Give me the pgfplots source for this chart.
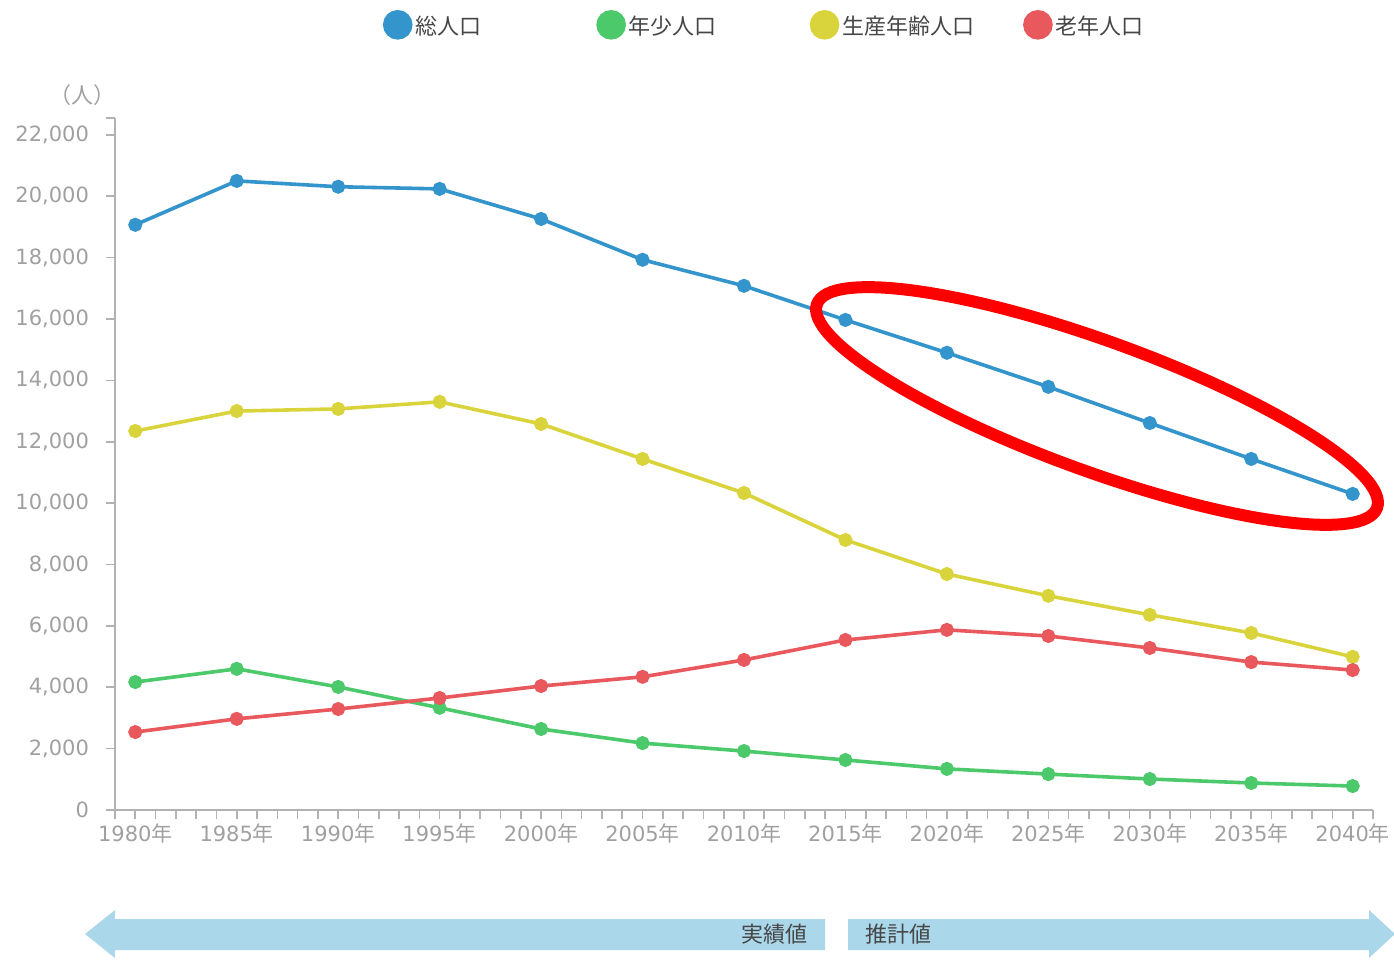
\documentclass[border=0pt]{standalone}
\usepackage{pgfplots}
\pgfplotsset{compat=1.18}
\usepackage{fontspec}
\setmainfont{Noto Sans CJK JP}
\newfontfamily\dv{DejaVu Sans}
\definecolor{cTot}{RGB}{52,148,204}
\definecolor{cYoung}{RGB}{76,201,106}
\definecolor{cWork}{RGB}{218,212,60}
\definecolor{cOld}{RGB}{232,88,92}
\definecolor{axisgray}{RGB}{178,178,178}
\definecolor{labgray}{RGB}{160,160,160}
\definecolor{leggray}{RGB}{70,70,70}
\definecolor{arrowblue}{RGB}{170,215,234}
\begin{document}
\begin{tikzpicture}
\useasboundingbox (-57.5pt,-75pt) rectangle (639.5pt,405pt);
\begin{axis}[
  at={(0pt,0pt)}, anchor=south west,
  scale only axis, width=629pt, height=346pt,
  xmin=1979, xmax=2041, ymin=0, ymax=22550,
  axis lines*=left,
  axis line style={draw=axisgray, line width=0.8pt},
  tick style={draw=axisgray, line width=0.8pt},
  tick align=outside,
  major tick length=4.5pt, minor tick length=4.5pt,
  xtick={1980,1985,...,2040},
  xticklabels={{\dv 1980}年,{\dv 1985}年,{\dv 1990}年,{\dv 1995}年,{\dv 2000}年,{\dv 2005}年,{\dv 2010}年,{\dv 2015}年,{\dv 2020}年,{\dv 2025}年,{\dv 2030}年,{\dv 2035}年,{\dv 2040}年},
  minor xtick={1979,1980,...,2041},
  ytick={0,2000,...,22000},
  extra y ticks={22550}, extra y tick labels={},
  scaled y ticks=false,
  /pgf/number format/assume math mode=true,
  /pgf/number format/1000 sep={,},
  yticklabel style={font=\dv\fontsize{10.5}{13}\selectfont, text=labgray, xshift=-5pt},
  xticklabel style={font=\fontsize{10.5}{13}\selectfont, text=labgray, yshift=1pt},
  clip=false,
  legend columns=4,
  legend cell align=left,
  legend style={draw=none, fill=none, inner sep=0pt, outer sep=0pt,
    column sep=0pt, at={(0.2130,1.1335)}, anchor=west,
    font=\fontsize{11}{13}\selectfont, text=leggray,
    nodes={text width=88.9pt, align=left, inner xsep=1.5pt}},
  every axis plot/.append style={line width=1.8pt, mark=*, mark size=2.6pt},
]
\addplot[color=cTot, mark options={fill=cTot, draw=cTot},
  legend image code/.code={\fill[cTot] (6.5pt,0.8pt) circle[radius=6.5pt];}]
  coordinates {(1980,19070) (1985,20500) (1990,20310) (1995,20240) (2000,19260)
  (2005,17930) (2010,17080) (2015,15970) (2020,14900) (2025,13790)
  (2030,12610) (2035,11440) (2040,10300)};
\addlegendentry{総人口}
\addplot[color=cYoung, mark options={fill=cYoung, draw=cYoung},
  legend image code/.code={\fill[cYoung] (6.5pt,0.8pt) circle[radius=6.5pt];}]
  coordinates {(1980,4170) (1985,4600) (1990,4010) (1995,3330) (2000,2640)
  (2005,2180) (2010,1920) (2015,1630) (2020,1340) (2025,1170)
  (2030,1010) (2035,880) (2040,780)};
\addlegendentry{年少人口}
\addplot[color=cWork, mark options={fill=cWork, draw=cWork},
  legend image code/.code={\fill[cWork] (6.5pt,0.8pt) circle[radius=6.5pt];}]
  coordinates {(1980,12350) (1985,13000) (1990,13070) (1995,13300) (2000,12580)
  (2005,11440) (2010,10330) (2015,8800) (2020,7690) (2025,6980)
  (2030,6360) (2035,5770) (2040,4990)};
\addlegendentry{生産年齢人口}
\addplot[color=cOld, mark options={fill=cOld, draw=cOld},
  legend image code/.code={\fill[cOld] (6.5pt,0.8pt) circle[radius=6.5pt];}]
  coordinates {(1980,2540) (1985,2970) (1990,3290) (1995,3650) (2000,4040)
  (2005,4340) (2010,4890) (2015,5540) (2020,5870) (2025,5670)
  (2030,5280) (2035,4820) (2040,4560)};
\addlegendentry{老年人口}
\end{axis}
% unit label
\node[text=labgray, font=\fontsize{11}{13}\selectfont] at (-16pt,357.5pt) {（人）};
% annotation ellipse
\draw[red, line width=6pt, rotate around={-20:(491pt,202pt)}]
  (491pt,202pt) ellipse [x radius=149pt, y radius=32.5pt];
% bottom arrows
\fill[arrowblue] (-15pt,-62pt) -- (0pt,-50pt) -- (0pt,-54.5pt) -- (355pt,-54.5pt)
  -- (355pt,-70pt) -- (0pt,-70pt) -- (0pt,-74pt) -- cycle;
\fill[arrowblue] (366.5pt,-54.5pt) -- (627pt,-54.5pt) -- (627pt,-50pt) -- (640pt,-62pt)
  -- (627pt,-74pt) -- (627pt,-70pt) -- (366.5pt,-70pt) -- cycle;
\node[anchor=east, inner sep=0pt, text=leggray, font=\fontsize{11}{13}\selectfont] at (346.5pt,-62pt) {実績値};
\node[anchor=west, inner sep=0pt, text=leggray, font=\fontsize{11}{13}\selectfont] at (375pt,-62pt) {推計値};
\end{tikzpicture}
\end{document}
